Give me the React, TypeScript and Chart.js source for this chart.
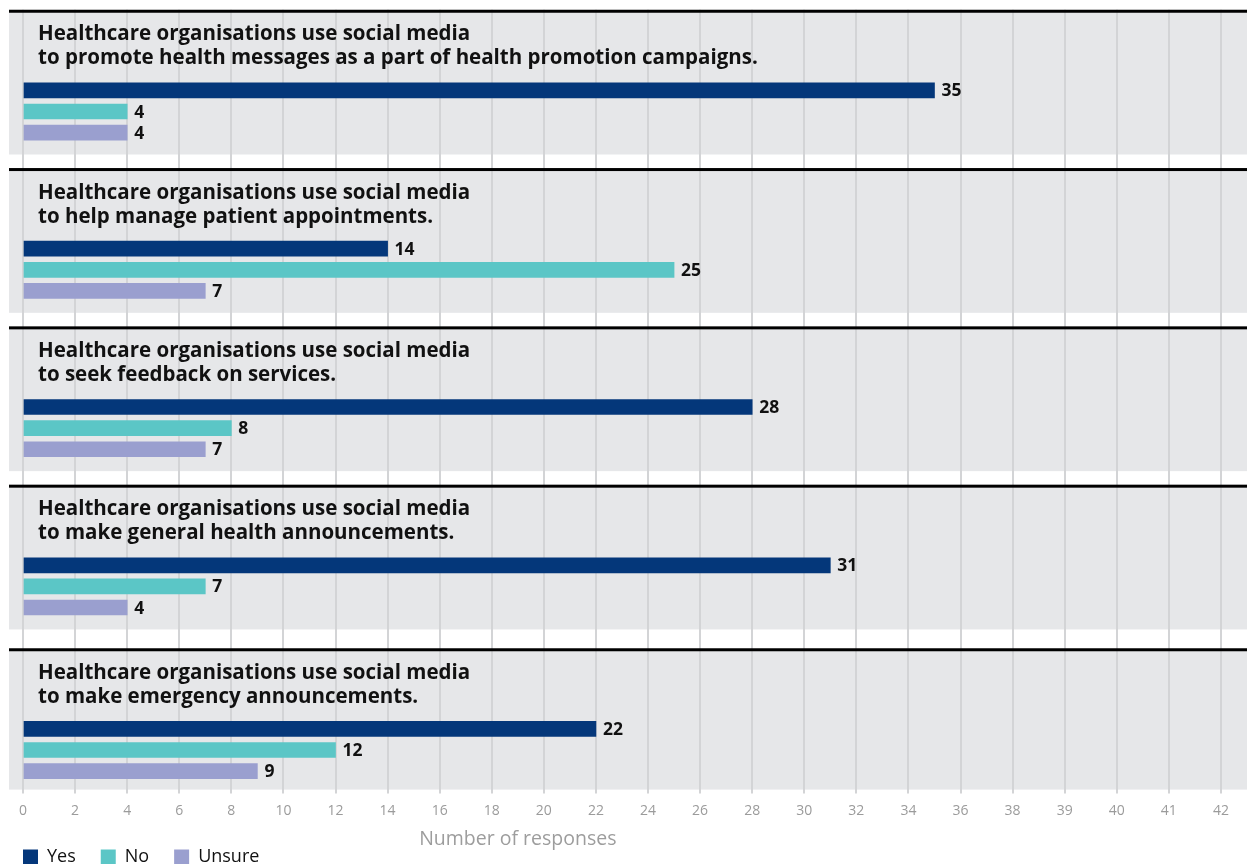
import React, { useEffect, useRef } from 'react';
import { Chart, registerables } from 'chart.js';

Chart.register(...registerables);

// ---------- data ----------
const panelTitleLead = 'Healthcare organisations use social media';
const panelTitleEnds = [
  'to promote health messages as a part of health promotion campaigns.',
  'to help manage patient appointments.',
  'to seek feedback on services.',
  'to make general health announcements.',
  'to make emergency announcements.',
];
const seriesNames = ['Yes', 'No', 'Unsure'];
const seriesColors = ['#04377a', '#5bc6c6', '#9a9fcf'];
const yesValues = [35, 14, 28, 31, 22];
const noValues = [4, 25, 8, 7, 12];
const unsureValues = [4, 7, 7, 4, 9];
const tickLabels = [
  '0', '2', '4', '6', '8', '10', '12', '14', '16', '18', '20', '22', '24', '26',
  '28', '30', '32', '34', '36', '38', '39', '40', '41', '42',
];
const axisTitle = 'Number of responses';

// ---------- layout (row grid on the category axis) ----------
const ROWS_PER_PANEL = 30;
const BAR_ROW_OFFSETS = [15, 19, 23];
const TOTAL_ROWS = 148;
const PANEL_GRAY_ROWS = 27.15;
const panelStart = (i: number) =>
  i * ROWS_PER_PANEL + (i === panelTitleEnds.length - 1 ? 1 : 0);

const FONT = "'Open Sans', sans-serif";

function buildSeriesRows(values: number[], seriesIdx: number) {
  const rows: (number | null)[] = new Array(TOTAL_ROWS).fill(null);
  values.forEach((v, i) => {
    rows[panelStart(i) + BAR_ROW_OFFSETS[seriesIdx]] = v;
  });
  return rows;
}

export default function App() {
  const ref = useRef<HTMLCanvasElement | null>(null);

  useEffect(() => {
    if (!ref.current) return;
    Chart.defaults.font.family = FONT;

    const panelsPlugin = {
      id: 'panels',
      beforeDraw(chart: any) {
        const { ctx, chartArea, scales } = chart;
        const y = scales.y;
        const h = (chartArea.bottom - chartArea.top) / TOTAL_ROWS;
        ctx.save();
        ctx.fillStyle = '#ffffff';
        ctx.fillRect(0, 0, chart.width, chart.height);
        ctx.fillStyle = '#e6e7e9';
        panelTitleEnds.forEach((_, i) => {
          const yp = y.getPixelForValue(panelStart(i));
          const bottom = Math.min(yp + PANEL_GRAY_ROWS * h, chartArea.bottom);
          ctx.fillRect(9, yp, chart.width - 9, bottom - yp);
        });
        ctx.restore();
      },
      beforeDatasetsDraw(chart: any) {
        const { ctx, scales } = chart;
        const y = scales.y;
        ctx.save();
        const firstTop = y.getPixelForValue(panelStart(0));
        ctx.fillStyle = '#ffffff';
        ctx.fillRect(0, 0, chart.width, firstTop - 1.5);
        ctx.fillStyle = '#000000';
        panelTitleEnds.forEach((_, i) => {
          const yp = y.getPixelForValue(panelStart(i));
          ctx.fillRect(9, yp - 1.5, chart.width - 9, 3);
        });
        ctx.fillStyle = '#111111';
        ctx.font = `bold 20.5px ${FONT}`;
        ctx.textBaseline = 'alphabetic';
        ctx.textAlign = 'left';
        panelTitleEnds.forEach((end, i) => {
          const yp = y.getPixelForValue(panelStart(i));
          ctx.fillText(panelTitleLead, 38, yp + 29);
          ctx.fillText(end, 38, yp + 53);
        });
        ctx.restore();
      },
      afterDatasetsDraw(chart: any) {
        const { ctx } = chart;
        ctx.save();
        ctx.fillStyle = '#111111';
        ctx.font = `bold 17.5px ${FONT}`;
        ctx.textBaseline = 'alphabetic';
        ctx.textAlign = 'left';
        chart.data.datasets.forEach((ds: any, di: number) => {
          const meta = chart.getDatasetMeta(di);
          meta.data.forEach((bar: any, idx: number) => {
            const v = ds.data[idx];
            if (v === null || v === undefined) return;
            ctx.fillText(String(v), bar.x + 7, bar.y + 6);
          });
        });
        ctx.restore();
      },
      afterDraw(chart: any) {
        const { ctx, scales } = chart;
        const x = scales.x;
        const first = x.getPixelForValue(x.ticks[0].value);
        const lastNumbered = x.getPixelForValue(x.ticks[tickLabels.indexOf('38')].value);
        ctx.save();
        ctx.fillStyle = '#9d9d9d';
        ctx.font = `19.5px ${FONT}`;
        ctx.textAlign = 'center';
        ctx.textBaseline = 'middle';
        ctx.fillText(axisTitle, (first + lastNumbered) / 2, x.top + 50);
        ctx.restore();
      },
    };

    const allValues = [yesValues, noValues, unsureValues];
    const chart = new Chart(ref.current, {
      type: 'bar',
      data: {
        labels: Array.from({ length: TOTAL_ROWS }, (_, i) => String(i)),
        datasets: seriesNames.map((name, si) => ({
          label: name,
          data: buildSeriesRows(allValues[si], si),
          backgroundColor: seriesColors[si],
          borderWidth: 0,
          barThickness: 15,
          grouped: false,
        })),
      },
      options: {
        indexAxis: 'y',
        responsive: false,
        animation: false,
        devicePixelRatio: 1,
        layout: { padding: { top: 8.6, left: -2, right: 0, bottom: 0 } },
        scales: {
          x: {
            type: 'linear',
            position: 'bottom',
            min: 0,
            max: 47,
            border: { display: false },
            grid: {
              color: '#d3d4d6',
              lineWidth: 2,
              drawTicks: true,
              tickLength: 4,
            },
            ticks: {
              stepSize: 2,
              includeBounds: false,
              autoSkip: false,
              maxRotation: 0,
              padding: 9,
              color: '#9b9b9b',
              font: { family: FONT, size: 14 },
              callback: (_v: any, index: number) => tickLabels[index] ?? '',
            },
            title: { display: false },
            afterFit: (scale: any) => {
              scale.height = 33.4;
            },
          },
          y: {
            type: 'category',
            display: true,
            grid: { display: false },
            border: { display: false },
            ticks: { display: false },
            afterFit: (scale: any) => {
              scale.width = 25;
            },
          },
        },
        plugins: {
          legend: {
            display: true,
            position: 'bottom',
            align: 'start',
            labels: {
              boxWidth: 15,
              boxHeight: 15,
              padding: 25,
              color: '#111111',
              font: { family: FONT, size: 18 },
            },
          },
          tooltip: { enabled: false },
        },
      },
      plugins: [panelsPlugin],
    } as any);

    return () => chart.destroy();
  }, []);

  return (
    <div
      style={{
        position: 'fixed',
        left: 0,
        top: 0,
        width: 1247,
        height: 864,
        overflow: 'hidden',
        background: '#ffffff',
      }}
    >
      <canvas ref={ref} width={1247} height={876} style={{ display: 'block' }} />
    </div>
  );
}
